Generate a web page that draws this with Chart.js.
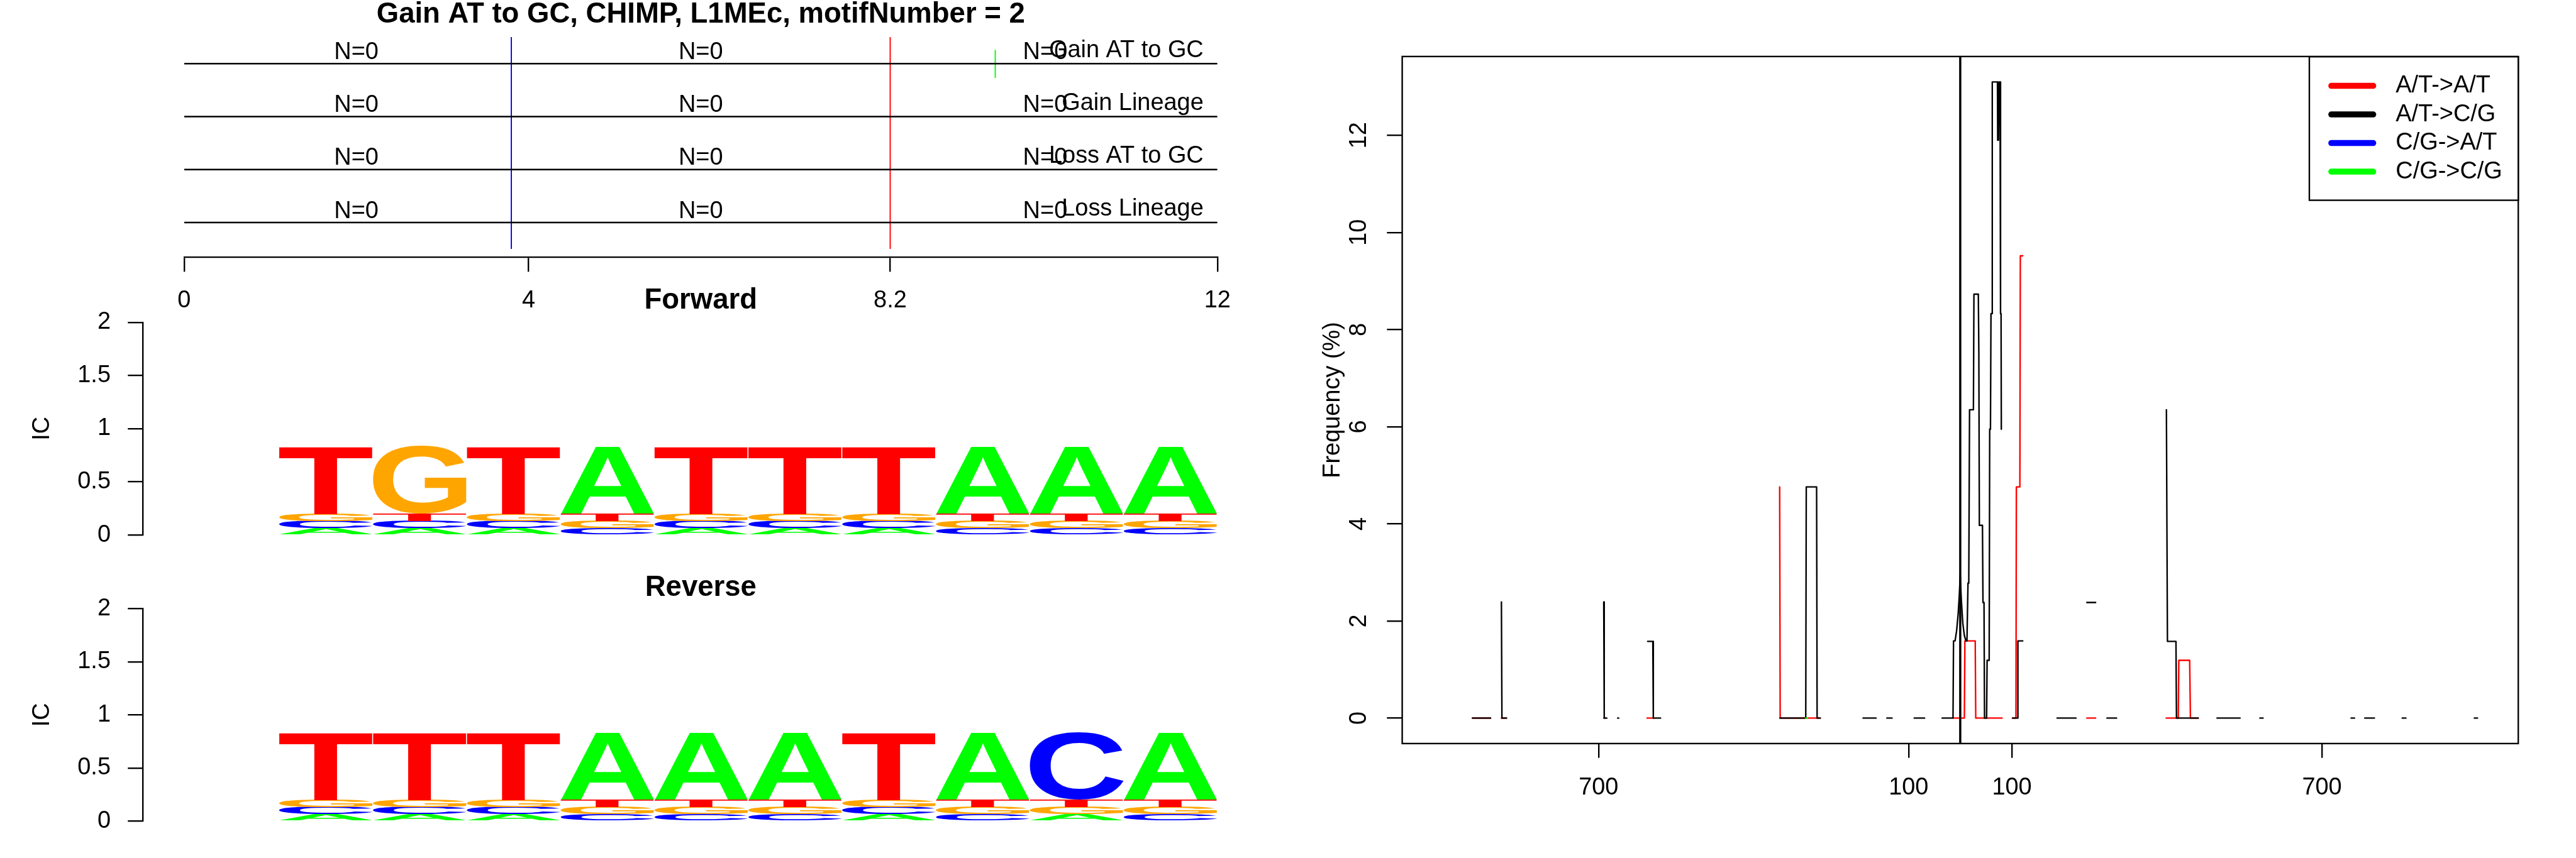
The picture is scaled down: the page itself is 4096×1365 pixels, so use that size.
<!DOCTYPE html>
<html>
<head>
<meta charset="utf-8">
<title>Gain AT to GC, CHIMP, L1MEc, motifNumber = 2</title>
<script src="https://cdn.jsdelivr.net/npm/chart.js@4.4.1/dist/chart.umd.min.js"></script>
<style>
  html, body { margin:0; padding:0; background:#ffffff; }
  #page { position:relative; width:4096px; height:1365px; overflow:hidden; background:#ffffff; }
  #page canvas { position:absolute; left:0; top:0; }
</style>
</head>
<body>
<div id="page">
  <canvas id="eventsChart" width="4096" height="1365"></canvas>
  <canvas id="forwardLogo" width="4096" height="1365"></canvas>
  <canvas id="reverseLogo" width="4096" height="1365"></canvas>
  <canvas id="freqChart" width="4096" height="1365"></canvas>
</div>
<script>
// ================= DATA =================
const chartTitle = 'Gain AT to GC, CHIMP, L1MEc, motifNumber = 2';
const eventNames = ['Gain AT to GC', 'Gain Lineage', 'Loss AT to GC', 'Loss Lineage'];
const eventLevels = [4, 3, 2, 1];
const eventCounts = ['N=0', 'N=0', 'N=0'];
const countPositions = [2, 6, 10];
const motifSpan = [0, 12];
const motifTicks = [0, 4, 8.2, 12];
const blueMark = 3.8;
const redMark = 8.2;
const greenMark = 9.42;
const markSpan = [0.5, 4.5];
const greenMarkSpan = [3.73, 4.26];

const logoPositions = [1, 2, 3, 4, 5, 6, 7, 8, 9, 10];
const logoLetters = ['A', 'C', 'G', 'T'];
// Forward: T G T A T T T A A A
const fwdA = [0.066, 0.066, 0.066, 0.636, 0.066, 0.066, 0.066, 0.636, 0.636, 0.636];
const fwdC = [0.066, 0.066, 0.066, 0.066, 0.066, 0.066, 0.066, 0.066, 0.066, 0.066];
const fwdG = [0.066, 0.636, 0.066, 0.066, 0.066, 0.066, 0.066, 0.066, 0.066, 0.066];
const fwdT = [0.636, 0.066, 0.636, 0.066, 0.636, 0.636, 0.636, 0.066, 0.066, 0.066];
// Reverse: T T T A A A T A C A
const revA = [0.066, 0.066, 0.066, 0.636, 0.636, 0.636, 0.066, 0.636, 0.066, 0.636];
const revC = [0.066, 0.066, 0.066, 0.066, 0.066, 0.066, 0.066, 0.066, 0.636, 0.066];
const revG = [0.066, 0.066, 0.066, 0.066, 0.066, 0.066, 0.066, 0.066, 0.066, 0.066];
const revT = [0.636, 0.636, 0.636, 0.066, 0.066, 0.066, 0.636, 0.066, 0.066, 0.066];
const icTicks = [0, 0.5, 1, 1.5, 2];

const seriesNames = ['A/T->A/T', 'A/T->C/G', 'C/G->A/T', 'C/G->C/G'];
const distTicks = [-700, -100, 100, 700];
const distTickLabels = ['700', '100', '100', '700'];
const freqTicks = [0, 2, 4, 6, 8, 10, 12];
const motifCentre = 0;

// A/T->A/T (red)
const atatPos = [
  -944, -909, null,
  -888, -879, null,
  -690, -687, null,
  -606, -593, null,
  -349.5, -348.5, -271, null,
  -13, 8, 9, 29, 30, 81, null,
  101, 107.8, 108.6, 115.4, 116.3, 121, null,
  245, 262, null,
  398.6, 422, 423, 444, 445.5, 460.5
];
const atatFreq = [
  0, 0, null,
  0, 0, null,
  0, 0, null,
  0, 0, null,
  4.76, 0, 0, null,
  0, 0, 1.59, 1.59, 0, 0, null,
  0, 0, 4.76, 4.76, 9.52, 9.52, null,
  0, 0, null,
  0, 0, 1.19, 1.19, 0, 0
];
// A/T->C/G (black)
const atcgPos = [
  -944, -909, null,
  -888, -887, -878, null,
  -690, -689, -684, null,
  -663, -661, null,
  -605, -595, -594, -580, null,
  -349, -299, -298, -278, -277, -271, null,
  -188, -163, null,
  -142, -132, null,
  -89, -69, null,
  -35, -14, -13, -10, -7, -4, -2, 0, 2, 5, 8, 11, 13, 15, 16.5, 18, 25.5, 26.5, 35, 36, 37, 43, 44, 46, 47,
  51, 52, 56, 57, 58.5, 59.5, 61, 62, 72, 72.5, 74, 75, 77, 78, 79, 79.5, null,
  101.5, 111, 111.6, 121, null,
  187.5, 224, null,
  245, 262, null,
  284, 302.5, null,
  399, 401, 417.5, 418.5, 460.5, null,
  497, 541.5, null,
  580, 586, null,
  756.5, 763, null,
  783, 801.5, null,
  855.5, 862.5, null,
  995, 1001
];
const atcgFreq = [
  0, 0, null,
  2.39, 0, 0, null,
  2.39, 0, 0, null,
  0, 0, null,
  1.58, 1.58, 0, 0, null,
  0, 0, 4.76, 4.76, 0, 0, null,
  0, 0, null,
  0, 0, null,
  0, 0, null,
  0, 0, 1.59, 1.59, 1.8, 2.15, 2.5, 2.95, 2.45, 1.95, 1.7, 1.59, 1.59, 2.78, 2.78, 6.35, 6.35, 8.73, 8.73, 7.54, 3.97, 3.97, 2.38, 2.38, 0,
  0, 1.19, 1.19, 5.95, 5.95, 8.33, 8.33, 13.1, 13.1, 11.9, 11.9, 13.1, 13.1, 8.33, 8.33, 5.95, null,
  0, 0, 1.59, 1.59, null,
  0, 0, null,
  2.38, 2.38, null,
  0, 0, null,
  6.35, 1.58, 1.58, 0, 0, null,
  0, 0, null,
  0, 0, null,
  0, 0, null,
  0, 0, null,
  0, 0, null,
  0, 0
];
// C/G->A/T (blue) - nothing visible
const cgatPos = [];
const cgatFreq = [];
// C/G->C/G (green)
const cgcgPos = [-299, -296];
const cgcgFreq = [0, 0];

// ================= STYLE =================
const S = 4096 / 5400;
const FONT = '"Liberation Sans", Arial, Helvetica, sans-serif';
const FS = 50 * S;
const LW = 3.125 * S;
const seriesColors = ['#FF0000', '#000000', '#0000FF', '#00FF00'];
const letterColors = { A: '#00FF00', C: '#0000FF', G: '#FFA500', T: '#FF0000' };

Chart.defaults.font.family = FONT;
Chart.defaults.color = '#000000';
Chart.defaults.borderColor = '#000000';

const baseOpts = { responsive: false, animation: false, devicePixelRatio: 1, events: [] };

// ================= PLUGINS =================
const eventText = {
  id: 'eventText',
  afterDatasetsDraw(chart) {
    const { ctx, scales: { x, y } } = chart;
    ctx.save();
    ctx.fillStyle = '#000';
    ctx.font = FS + 'px ' + FONT;
    ctx.textBaseline = 'alphabetic';
    eventLevels.forEach((lv, r) => {
      const yy = y.getPixelForValue(lv);
      ctx.textAlign = 'center';
      countPositions.forEach((cp, k) => ctx.fillText(eventCounts[k], x.getPixelForValue(cp), yy - 9.7 * S));
      ctx.textAlign = 'right';
      ctx.fillText(eventNames[r], x.getPixelForValue(motifSpan[1]) - 29 * S, yy - 14 * S);
    });
    ctx.restore();
  }
};

const panelTitle = {
  id: 'panelTitle',
  afterDraw(chart, args, o) {
    if (!o || !o.text) return;
    const ctx = chart.ctx;
    ctx.save();
    ctx.font = 'bold ' + (60 * S) + 'px ' + FONT;
    ctx.fillStyle = '#000';
    ctx.textAlign = 'center';
    ctx.textBaseline = 'middle';
    ctx.fillText(o.text, o.x, o.y);
    ctx.restore();
  }
};

function drawGlyph(ctx, ch, color, left, top, w, h) {
  ctx.save();
  ctx.font = 'bold 200px ' + FONT;
  ctx.textAlign = 'left';
  ctx.textBaseline = 'alphabetic';
  const m = ctx.measureText(ch);
  const gl = m.actualBoundingBoxLeft, gr = m.actualBoundingBoxRight;
  const ga = m.actualBoundingBoxAscent, gd = m.actualBoundingBoxDescent;
  const gw = gl + gr, gh = ga + gd;
  ctx.translate(left, top);
  ctx.scale(w / gw, h / gh);
  ctx.fillStyle = color;
  ctx.fillText(ch, gl, ga);
  ctx.restore();
}

const seqLetters = {
  id: 'seqLetters',
  afterDatasetsDraw(chart) {
    const ctx = chart.ctx;
    chart.data.datasets.forEach((ds, di) => {
      const meta = chart.getDatasetMeta(di);
      meta.data.forEach(el => {
        const p = el.getProps(['x', 'y', 'base', 'width'], true);
        const top = Math.min(p.y, p.base), h = Math.abs(p.base - p.y);
        if (h < 0.5) return;
        drawGlyph(ctx, ds.label, ds.letterColor, p.x - p.width / 2, top, p.width, h);
      });
    });
  }
};

const frameLines = {
  id: 'frameLines',
  afterDatasetsDraw(chart, args, o) {
    const { ctx, chartArea: a, scales: { x } } = chart;
    ctx.save();
    ctx.strokeStyle = '#000';
    ctx.lineWidth = o.centreWidth;
    const cx = x.getPixelForValue(o.centre);
    ctx.beginPath(); ctx.moveTo(cx, a.top); ctx.lineTo(cx, a.bottom); ctx.stroke();
    ctx.lineWidth = o.frameWidth;
    ctx.strokeRect(a.left, a.top, a.right - a.left, a.bottom - a.top);
    ctx.restore();
  }
};

const boxLegend = {
  id: 'boxLegend',
  afterDraw(chart, args, o) {
    const ctx = chart.ctx;
    ctx.save();
    ctx.fillStyle = '#fff';
    ctx.fillRect(o.left, o.top, o.right - o.left, o.bottom - o.top);
    ctx.lineWidth = LW;
    ctx.strokeStyle = '#000';
    ctx.strokeRect(o.left, o.top, o.right - o.left, o.bottom - o.top);
    chart.data.datasets.forEach((ds, i) => {
      const y = o.firstRow + i * o.rowGap;
      ctx.beginPath();
      ctx.lineCap = 'round';
      ctx.lineWidth = 12.5 * S;
      ctx.strokeStyle = ds.borderColor;
      ctx.moveTo(o.lineX0, y); ctx.lineTo(o.lineX1, y); ctx.stroke();
      ctx.fillStyle = '#000';
      ctx.font = FS + 'px ' + FONT;
      ctx.textBaseline = 'middle';
      ctx.textAlign = 'left';
      ctx.fillText(ds.label, o.textX, y);
    });
    ctx.restore();
  }
};

// ================= CHART 1: events =================
function segLine(x0, y0, x1, y1, color, w) {
  return { data: [{ x: x0, y: y0 }, { x: x1, y: y1 }], borderColor: color, backgroundColor: color,
           borderWidth: w, pointRadius: 0, tension: 0, fill: false };
}
new Chart(document.getElementById('eventsChart'), {
  type: 'line',
  data: {
    datasets: [
      ...eventLevels.map(lv => segLine(motifSpan[0], lv, motifSpan[1], lv, '#000000', LW)),
      segLine(blueMark, markSpan[0], blueMark, markSpan[1], '#0000FF', 2.5 * S),
      segLine(redMark, markSpan[0], redMark, markSpan[1], '#FF0000', 2.5 * S),
      segLine(greenMark, greenMarkSpan[0], greenMark, greenMarkSpan[1], '#00FF00', 2.5 * S)
    ]
  },
  options: {
    ...baseOpts,
    layout: { padding: { left: 386 * S, right: 4096 - 2552 * S, top: 0, bottom: 1365 - 540 * S - 100 } },
    plugins: {
      legend: { display: false }, tooltip: { enabled: false },
      title: { display: true, text: chartTitle, color: '#000',
               font: { size: 60 * S, weight: 'bold', family: FONT, lineHeight: 0.98 },
               padding: { top: 1, bottom: 0 } }
    },
    scales: {
      x: {
        type: 'linear', min: motifSpan[0], max: motifSpan[1],
        afterBuildTicks: s => { s.ticks = motifTicks.map(v => ({ value: v })); },
        afterFit: s => { s.height = 100; },
        grid: { display: true, drawOnChartArea: false, drawTicks: true, tickLength: 30 * S, color: '#000', lineWidth: LW },
        border: { display: true, color: '#000', width: LW },
        ticks: { autoSkip: false, maxRotation: 0, padding: 23.5, font: { size: FS }, color: '#000', callback: v => String(v) }
      },
      y: { type: 'linear', display: false, min: 0.34, max: 4.66 }
    }
  },
  plugins: [eventText]
});

// ================= CHART 2/3: logos =================
function logoDatasets(h) {
  const stacks = { A: [], C: [], G: [], T: [] };
  logoPositions.forEach((pos, i) => {
    const order = logoLetters.slice().sort((a, b) => (h[a][i] - h[b][i]) || (logoLetters.indexOf(a) - logoLetters.indexOf(b)));
    let base = 0;
    order.forEach(L => { stacks[L].push({ x: pos, y: [base, base + h[L][i]] }); base += h[L][i]; });
  });
  return logoLetters.map(L => ({
    label: L, data: stacks[L], letterColor: letterColors[L],
    backgroundColor: 'rgba(0,0,0,0)', borderWidth: 0,
    grouped: false, barPercentage: 1, categoryPercentage: 1
  }));
}

function logoChart(id, heights, title, topPx, bottomPx, titleY) {
  return new Chart(document.getElementById(id), {
    type: 'bar',
    data: { datasets: logoDatasets(heights) },
    options: {
      ...baseOpts,
      layout: { padding: { left: 0, right: 4096 - 2552 * S, top: topPx, bottom: 1365 - bottomPx } },
      plugins: {
        legend: { display: false }, tooltip: { enabled: false },
        panelTitle: { text: title, x: 1469 * S, y: titleY }
      },
      scales: {
        x: {
          type: 'linear', display: false, offset: false, min: -0.954, max: 10.5,
          afterBuildTicks: s => { s.ticks = logoPositions.map(v => ({ value: v })); },
          grid: { offset: false }
        },
        y: {
          type: 'linear', min: 0, max: 2,
          afterBuildTicks: s => { s.ticks = icTicks.map(v => ({ value: v })); },
          afterFit: s => { s.width = 299 * S; },
          grid: { display: true, drawOnChartArea: false, drawTicks: true, tickLength: 31 * S, color: '#000', lineWidth: LW },
          border: { display: true, color: '#000', width: LW },
          title: { display: true, text: 'IC', color: '#000', font: { size: FS }, padding: { top: 45, bottom: 0 } },
          ticks: { autoSkip: false, padding: 27.3, font: { size: FS }, color: '#000', callback: v => String(v) }
        }
      }
    },
    plugins: [seqLetters, panelTitle]
  });
}
logoChart('forwardLogo', { A: fwdA, C: fwdC, G: fwdG, T: fwdT }, 'Forward', 676 * S, 1122 * S, 631 * S);
logoChart('reverseLogo', { A: revA, C: revC, G: revG, T: revT }, 'Reverse', 1277 * S, 1722 * S, 1233 * S);

// ================= CHART 4: frequency =================
function toPoints(pos, freq) {
  const pts = []; let last = 0;
  pos.forEach((p, i) => {
    if (p === null) pts.push({ x: last, y: null });
    else { pts.push({ x: p, y: freq[i] }); last = p; }
  });
  return pts;
}
const seriesData = [[atatPos, atatFreq], [atcgPos, atcgFreq], [cgatPos, cgatFreq], [cgcgPos, cgcgFreq]];

new Chart(document.getElementById('freqChart'), {
  type: 'line',
  data: {
    datasets: seriesNames.map((name, i) => ({
      label: name, data: toPoints(seriesData[i][0], seriesData[i][1]),
      borderColor: seriesColors[i], backgroundColor: seriesColors[i], borderWidth: LW,
      pointRadius: 0, tension: 0, fill: false, spanGaps: false,
      borderCapStyle: 'round', borderJoinStyle: 'round', order: 4 - i
    }))
  },
  options: {
    ...baseOpts,
    layout: { padding: { left: 2069.6, right: 4096 - 5279 * S, top: 118.5 * S, bottom: 1365 - 1559.5 * S - 110 } },
    plugins: {
      legend: { display: false }, tooltip: { enabled: false },
      frameLines: { centre: motifCentre, centreWidth: 4.6 * S, frameWidth: LW },
      boxLegend: {
        left: 4841 * S, right: 5279 * S, top: 119 * S, bottom: 420 * S,
        firstRow: 180 * S, rowGap: 60 * S, lineX0: 4887 * S, lineX1: 4975 * S, textX: 5022 * S
      }
    },
    scales: {
      x: {
        type: 'linear', min: -1080, max: 1080,
        afterBuildTicks: s => { s.ticks = distTicks.map(v => ({ value: v })); },
        afterFit: s => { s.height = 110; },
        grid: { display: true, drawOnChartArea: false, drawTicks: true, tickLength: 30 * S, color: '#000', lineWidth: LW },
        border: { display: false },
        ticks: { autoSkip: false, maxRotation: 0, padding: 25.4, font: { size: FS }, color: '#000',
                 callback: v => distTickLabels[distTicks.indexOf(v)] }
      },
      y: {
        type: 'linear', min: -0.524, max: 13.624,
        afterBuildTicks: s => { s.ticks = freqTicks.map(v => ({ value: v })); },
        afterFit: s => { s.width = 160; },
        grid: { display: true, drawOnChartArea: false, drawTicks: true, tickLength: 32 * S, color: '#000', lineWidth: LW },
        border: { display: false },
        title: { display: true, text: 'Frequency (%)', color: '#000', font: { size: FS }, padding: { top: 27.65, bottom: 0 } },
        ticks: { autoSkip: false, minRotation: 90, maxRotation: 90, crossAlign: 'center', padding: 22.5,
                 font: { size: FS }, color: '#000', callback: v => String(v) }
      }
    }
  },
  plugins: [frameLines, boxLegend]
});
</script>
</body>
</html>
